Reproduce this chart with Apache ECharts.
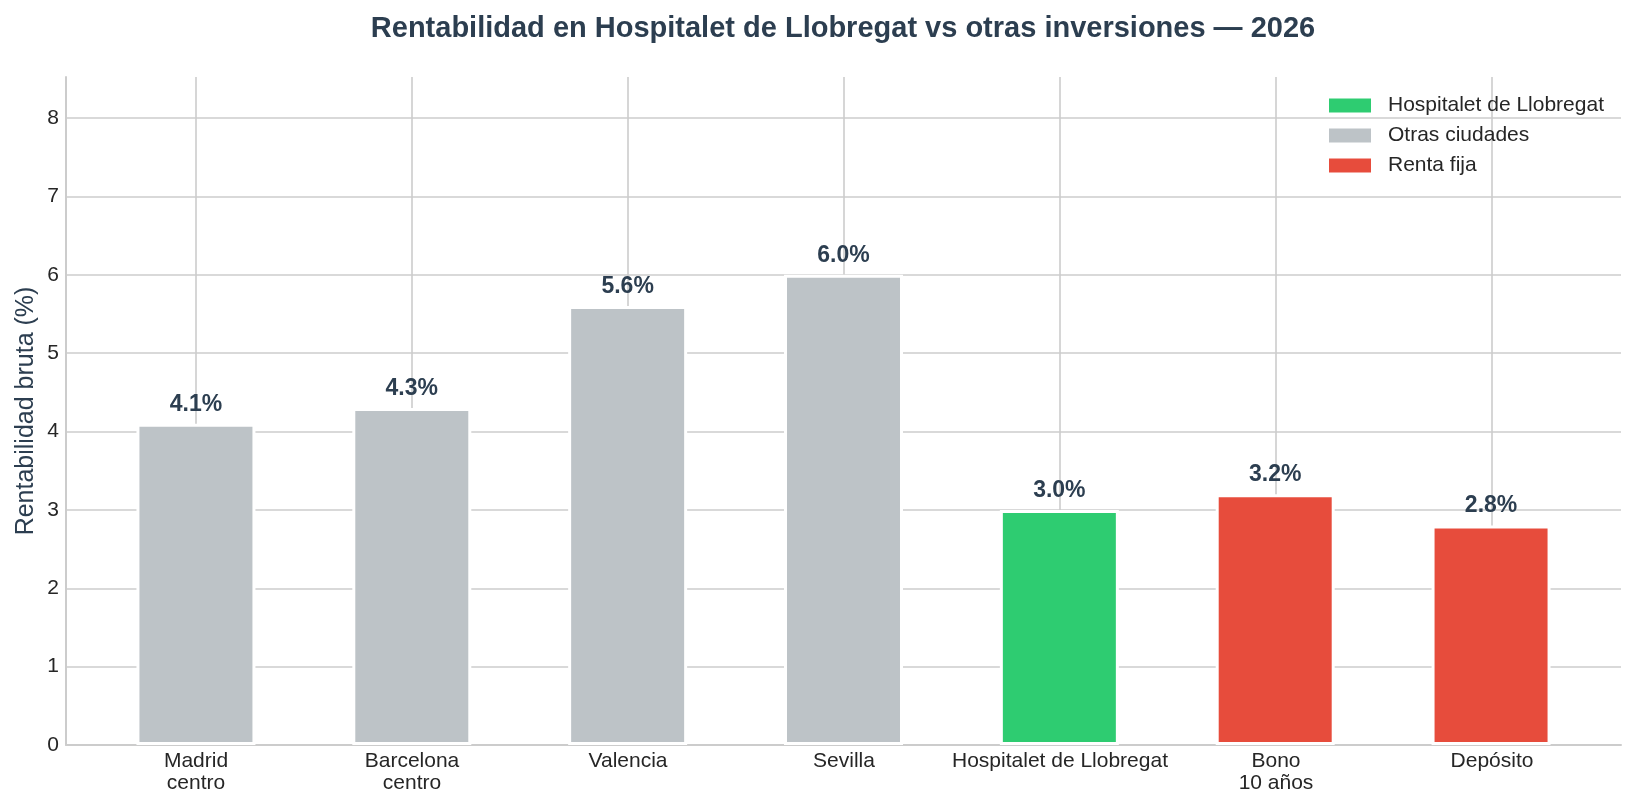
<!DOCTYPE html>
<html>
<head>
<meta charset="utf-8">
<script src="https://cdn.jsdelivr.net/npm/echarts@6/dist/echarts.min.js"></script>
<style>html,body{margin:0;padding:0;background:#fff;}#c{width:1636px;height:808px;}</style>
</head>
<body>
<div id="c"></div>
<script>
const categories = ['Madrid\ncentro', 'Barcelona\ncentro', 'Valencia', 'Sevilla', 'Hospitalet de Llobregat', 'Bono\n10 años', 'Depósito'];
const values = [4.1, 4.3, 5.6, 6.0, 3.0, 3.2, 2.8];
const groups = ['Otras ciudades', 'Otras ciudades', 'Otras ciudades', 'Otras ciudades', 'Hospitalet de Llobregat', 'Renta fija', 'Renta fija'];
const seriesNames = ['Hospitalet de Llobregat', 'Otras ciudades', 'Renta fija'];
const seriesColors = ['#2ecc71', '#bdc3c7', '#e74c3c'];
const yTicks = [0, 1, 2, 3, 4, 5, 6, 7, 8];

const FONT = 'Liberation Sans, Arial, sans-serif';
const GRID_C = '#cccccc';

const chart = echarts.init(document.getElementById('c'), null, {renderer: 'canvas'});

const series = seriesNames.map((name, si) => ({
  name: name,
  type: 'bar',
  xAxisIndex: 0,
  yAxisIndex: 0,
  barWidth: 119,
  barGap: '-100%',
  itemStyle: {color: seriesColors[si], borderColor: '#ffffff', borderWidth: 3},
  label: {
    show: true, position: 'top', distance: 8,
    fontFamily: FONT, fontWeight: 'bold', fontSize: 23, color: '#2c3e50',
    formatter: p => p.value[1].toFixed(1) + '%'
  },
  data: values.map((v, i) => groups[i] === name ? [i, v] : null).filter(d => d !== null),
  z: 3
}));

chart.setOption({
  backgroundColor: '#ffffff',
  animation: false,
  title: {
    text: 'Rentabilidad en Hospitalet de Llobregat vs otras inversiones — 2026',
    left: 843, textAlign: 'center', top: 14, padding: 0,
    textStyle: {fontFamily: FONT, fontWeight: 'bold', fontSize: 29, color: '#2c3e50'}
  },
  legend: {
    orient: 'vertical', left: 1327, top: 95, padding: 0,
    itemWidth: 44, itemHeight: 16, itemGap: 9,
    icon: 'rect',
    data: seriesNames,
    textStyle: {fontFamily: FONT, fontSize: 21, lineHeight: 16, color: '#262626', padding: [0, 0, 0, 11]}
  },
  grid: [
    {left: 66, right: 15, top: 118, bottom: 63},
    {left: 66, right: 15, top: 77, bottom: 63},
    {left: 196, right: 144, top: 77, bottom: 63}
  ],
  xAxis: [
    {gridIndex: 0, type: 'value', min: -0.602, max: 6.602, show: false},
    {gridIndex: 1, type: 'value', min: 0, max: 1,
      axisLine: {show: true, onZero: false, lineStyle: {color: GRID_C, width: 2}},
      axisTick: {show: false}, axisLabel: {show: false}, splitLine: {show: false}},
    {gridIndex: 2, type: 'category', boundaryGap: false, data: categories,
      axisLine: {show: false}, axisTick: {show: false},
      splitLine: {show: true, lineStyle: {color: GRID_C, width: 1.6}},
      axisLabel: {fontFamily: FONT, fontSize: 21, color: '#262626', margin: 5, lineHeight: 22, interval: 0}}
  ],
  yAxis: [
    {gridIndex: 0, type: 'value', min: 0, max: 8, interval: 1,
      axisLine: {show: false}, axisTick: {show: false},
      splitLine: {show: true, lineStyle: {color: GRID_C, width: 1.6}},
      axisLabel: {fontFamily: FONT, fontSize: 21, color: '#262626', margin: 7,
        customValues: yTicks}},
    {gridIndex: 1, type: 'value', min: 0, max: 1,
      axisLine: {show: true, lineStyle: {color: GRID_C, width: 2}},
      axisTick: {show: false}, axisLabel: {show: false}, splitLine: {show: false},
      name: 'Rentabilidad bruta (%)', nameLocation: 'middle', nameGap: 27,
      nameTextStyle: {fontFamily: FONT, fontSize: 25, color: '#2c3e50'}},
    {gridIndex: 2, type: 'value', min: 0, max: 1, show: false}
  ],
  series: series
});
</script>
</body>
</html>
